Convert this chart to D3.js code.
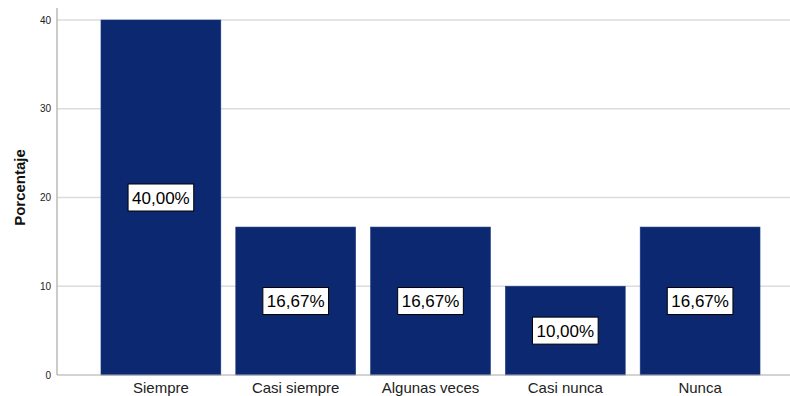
<!DOCTYPE html>
<html>
<head>
<meta charset="utf-8">
<script src="https://cdn.jsdelivr.net/npm/d3@7"></script>
<style>
  html, body { margin: 0; padding: 0; background: #fff; }
  svg { display: block; font-family: Arial, "Liberation Sans", sans-serif; }
</style>
</head>
<body>
<svg id="chart" width="790" height="396"></svg>
<script>
// Frequency categories and their percentages
const categories = ["Siempre", "Casi siempre", "Algunas veces", "Casi nunca", "Nunca"];
const percentages = [40.00, 16.67, 16.67, 10.00, 16.67];
const yTicks = [0, 10, 20, 30, 40];
const yTitle = "Porcentaje";

const svg = d3.select("#chart");
const W = 790, H = 396;
const axisX = 57, plotTop = 8, baseY = 375;

const y = d3.scaleLinear().domain([0, 40]).range([baseY, 20]);
const x = d3.scaleBand().domain(categories).range([93.5, 767.5])
  .paddingInner(0.111).paddingOuter(0.0555);

// Horizontal grid lines
svg.append("g").selectAll("line").data(yTicks.filter(d => d > 0)).join("line")
  .attr("x1", axisX).attr("x2", W)
  .attr("y1", d => y(d)).attr("y2", d => y(d))
  .attr("stroke", "#dcdcdc").attr("stroke-width", 1.6);

// Bars
svg.append("g").selectAll("rect").data(percentages).join("rect")
  .attr("x", (d, i) => x(categories[i]))
  .attr("y", d => y(d))
  .attr("width", x.bandwidth())
  .attr("height", d => baseY - y(d))
  .attr("fill", "#0b2870")
  .attr("stroke", "#1d3a80").attr("stroke-width", 0.6);

// Y axis
const yAxis = d3.axisLeft(y).tickValues(yTicks).tickSize(0).tickPadding(6).tickFormat(d3.format("d"));
const gy = svg.append("g").attr("transform", `translate(${axisX},0)`).call(yAxis);
gy.select(".domain").remove();
gy.selectAll("text").attr("font-size", 10).attr("fill", "#222")
  .attr("font-family", "Arial, 'Liberation Sans', sans-serif");
svg.append("line").attr("x1", axisX).attr("x2", axisX).attr("y1", plotTop).attr("y2", baseY)
  .attr("stroke", "#a8a8a8").attr("stroke-width", 1.2);

// X axis
const xAxis = d3.axisBottom(x).tickSize(0).tickPadding(7);
const gx = svg.append("g").attr("transform", `translate(0,${baseY})`).call(xAxis);
gx.select(".domain").remove();
gx.selectAll("text").attr("font-size", 15).attr("fill", "#222")
  .attr("font-family", "Arial, 'Liberation Sans', sans-serif");
svg.append("line").attr("x1", axisX).attr("x2", W).attr("y1", baseY).attr("y2", baseY)
  .attr("stroke", "#a8a8a8").attr("stroke-width", 1.2);

// Y title
svg.append("text")
  .attr("transform", `translate(25,187.5) rotate(-90)`)
  .attr("text-anchor", "middle")
  .attr("font-size", 15).attr("font-weight", "bold").attr("fill", "#111")
  .text(yTitle);

// Value labels in white boxes at bar mid-height
const fmt = v => v.toFixed(2).replace(".", ",") + "%";
const labels = svg.append("g").selectAll("g").data(percentages).join("g")
  .attr("transform", (d, i) => `translate(${x(categories[i]) + x.bandwidth() / 2},${(y(d) + baseY) / 2})`);
labels.append("text")
  .attr("text-anchor", "middle").attr("dy", "0.36em")
  .attr("font-size", 17).attr("fill", "#000")
  .text(d => fmt(d));
labels.each(function () {
  const g = d3.select(this);
  const bb = g.select("text").node().getBBox();
  g.insert("rect", "text")
    .attr("x", bb.x - 4).attr("y", -13.5)
    .attr("width", bb.width + 8).attr("height", 27)
    .attr("fill", "#fff").attr("stroke", "#000").attr("stroke-width", 1);
});
</script>
</body>
</html>
